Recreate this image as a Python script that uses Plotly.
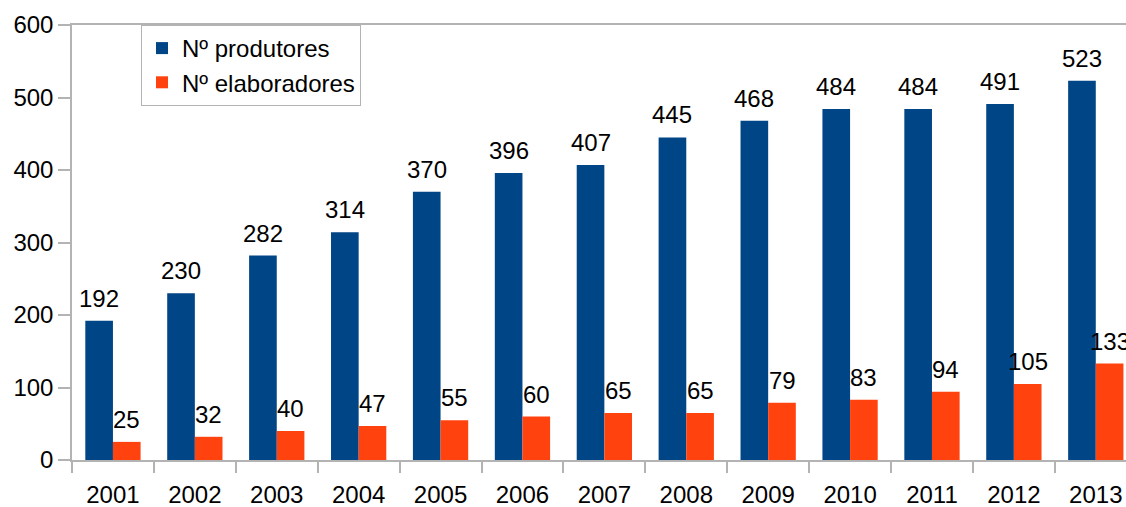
import plotly.graph_objects as go

years = ["2001", "2002", "2003", "2004", "2005", "2006", "2007",
         "2008", "2009", "2010", "2011", "2012", "2013"]
produtores = [192, 230, 282, 314, 370, 396, 407, 445, 468, 484, 484, 491, 523]
elaboradores = [25, 32, 40, 47, 55, 60, 65, 65, 79, 83, 94, 105, 133]
y_ticks = [0, 100, 200, 300, 400, 500, 600]

BLUE = "#004586"
ORANGE = "#ff420e"
GRAY = "#b3b3b3"
FONT = "Liberation Sans, Arial, sans-serif"

fig = go.Figure()
fig.add_trace(go.Bar(x=years, y=produtores, name="Nº produtores",
                     marker=dict(color=BLUE, line=dict(width=0))))
fig.add_trace(go.Bar(x=years, y=elaboradores, name="Nº elaboradores",
                     marker=dict(color=ORANGE, line=dict(width=0))))

# value labels above bars (x given as category index)
bar_px = 27.7
for i, v in enumerate(produtores):
    fig.add_annotation(x=i, y=v, xref="x", yref="y", text=str(v),
                       showarrow=False, xshift=-bar_px / 2, yshift=7,
                       yanchor="bottom",
                       font=dict(size=24, color="#000000", family=FONT))
for i, v in enumerate(elaboradores):
    fig.add_annotation(x=i, y=v, xref="x", yref="y", text=str(v),
                       showarrow=False, xshift=bar_px / 2, yshift=7,
                       yanchor="bottom",
                       font=dict(size=24, color="#000000", family=FONT))

fig.update_layout(
    width=1126, height=507,
    margin=dict(l=72, r=0, t=25, b=47, pad=0, autoexpand=False),
    paper_bgcolor="white", plot_bgcolor="white",
    barmode="group", bargap=0.325, bargroupgap=0,
    font=dict(family=FONT, size=24, color="#000000"),
    showlegend=True,
    legend=dict(x=(141 - 72) / 1054, y=1, xanchor="left", yanchor="top",
                bordercolor=GRAY, borderwidth=1, bgcolor="white",
                font=dict(size=24, family=FONT)),
    xaxis=dict(range=[-0.5, 12.369], type="category", automargin=False,
               showline=True, linecolor=GRAY, linewidth=1.5, mirror=True,
               ticks="outside", tickson="boundaries", ticklen=11,
               tickcolor=GRAY, tickwidth=1.5, showgrid=False,
               ticklabelstandoff=12,
               tickfont=dict(size=24, family=FONT)),
    yaxis=dict(range=[0, 600], tickvals=y_ticks, automargin=False,
               showline=True, linecolor=GRAY, linewidth=1.5,
               ticks="outside", ticklen=12, tickcolor=GRAY, tickwidth=1.5,
               showgrid=False, zeroline=False,
               tickfont=dict(size=24, family=FONT)),
)

fig.write_html(
    "out.html",
    config={"displayModeBar": False},
    post_script="document.body.style.margin='0';document.body.style.overflow='hidden';",
)
